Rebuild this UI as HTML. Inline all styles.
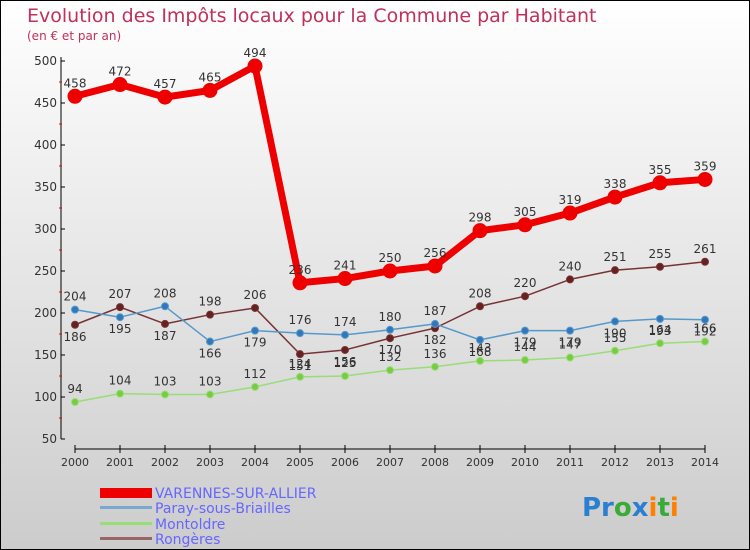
<!DOCTYPE html>
<html><head><meta charset="utf-8"><style>
body{margin:0}
svg{display:block;font-family:"DejaVu Sans","Liberation Sans",sans-serif}
</style></head><body>
<svg width="750" height="550" viewBox="0 0 750 550">
<defs><linearGradient id="bg" x1="0" y1="0" x2="0" y2="1"><stop offset="0" stop-color="#ffffff"/><stop offset="1" stop-color="#cccccc"/></linearGradient></defs>
<rect x="0.5" y="0.5" width="749" height="549" fill="url(#bg)" stroke="#000"/>
<text x="27" y="22" font-size="19" fill="#c0305a">Evolution des Impôts locaux pour la Commune par Habitant</text>
<text x="27" y="40" font-size="12" fill="#c0305a">(en € et par an)</text>
<g id="axes"></g>
<g id="series"></g>
<g>
<rect x="100" y="488" width="52" height="10" fill="#e00"/>
<text x="155" y="498" font-size="14" fill="#6666ff">VARENNES-SUR-ALLIER</text>
<rect x="100" y="506" width="52" height="3" fill="#7aa9d0"/>
<text x="155" y="513" font-size="14" fill="#6666ff">Paray-sous-Briailles</text>
<rect x="100" y="522" width="52" height="3" fill="#99dd77"/>
<text x="155" y="529" font-size="14" fill="#6666ff">Montoldre</text>
<rect x="100" y="537" width="52" height="3" fill="#996666"/>
<text x="155" y="544" font-size="14" fill="#6666ff">Rongères</text>
</g>
<text x="582" y="516" font-size="26" font-weight="bold"><tspan fill="#2a7fd0">Pr</tspan><tspan fill="#3aaa3a">o</tspan><tspan fill="#2a7fd0">x</tspan><tspan fill="#ff7f00">i</tspan><tspan fill="#3aaa3a">t</tspan><tspan fill="#ff7f00">i</tspan></text>
</svg>
<script>
const years=[2000,2001,2002,2003,2004,2005,2006,2007,2008,2009,2010,2011,2012,2013,2014];
const varennes=[458,472,457,465,494,236,241,250,256,298,305,319,338,355,359];
const paray=[204,195,208,166,179,176,174,180,187,168,179,179,190,193,192];
const montoldre=[94,104,103,103,112,124,125,132,136,143,144,147,155,164,166];
const rongeres=[186,207,187,198,206,151,156,170,182,208,220,240,251,255,261];
const yTicks=[50,100,150,200,250,300,350,400,450,500];
const NS="http://www.w3.org/2000/svg";
const X=i=>75+i*45;
const Y=v=>439-(v-50)*(378/450);
function mk(t,a,p){const e=document.createElementNS(NS,t);for(const k in a)e.setAttribute(k,a[k]);p.appendChild(e);return e;}
const ax=document.getElementById('axes');
let l=mk('line',{x1:61,y1:Y(500)-4,x2:61,y2:Y(50),stroke:'#000'},ax);


l=mk('line',{x1:X(0),y1:449,x2:X(14),y2:449,stroke:'#000'},ax);


yTicks.forEach(v=>{
 mk('line',{x1:61,y1:Y(v),x2:65,y2:Y(v),stroke:'#000'},ax);
 if(v<500) mk('line',{x1:59,y1:Y(v+25),x2:62,y2:Y(v+25),stroke:'#e00'},ax);
 const t=mk('text',{x:57,y:Y(v)+4,'font-size':12,fill:'#333','text-anchor':'end'},ax);
 t.textContent=v;
 
 
});
years.forEach((y,i)=>{
 mk('line',{x1:X(i),y1:445,x2:X(i),y2:453,stroke:'#000'},ax);
 const t=mk('text',{x:X(i),y:466,'font-size':11,fill:'#333','text-anchor':'middle'},ax);
 t.textContent=y;
 
 
});
const sg=document.getElementById('series');
function draw(data,name,color,dot,w,r,labelsAbove){
 const g=mk('g',{},sg);
 
 
 const pl=mk('polyline',{points:data.map((v,i)=>X(i)+','+Y(v)).join(' '),fill:'none',stroke:color,'stroke-width':w,'stroke-linejoin':'round'},g);
 
 
 data.forEach((v,i)=>{
  const c=mk('circle',{cx:X(i),cy:Y(v),r:r,fill:dot,stroke:color,'stroke-width':1},g);
  
  
  const up=labelsAbove(i);
  const t=mk('text',{x:X(i),y:Y(v)+(up?-9:16),'font-size':12,fill:'#333','text-anchor':'middle'},g);
  t.textContent=v;
  
  
 });
}
draw(montoldre,'montoldre','#99dd77','#77cc44',1.5,3.5,()=>true);
draw(rongeres,'rongeres','#773333','#662222',1.5,3.5,i=>rongeres[i]>=paray[i]);
draw(paray,'paray','#5599cc','#3377bb',1.5,3.5,i=>paray[i]>rongeres[i]);
draw(varennes,'varennes','#ee0000','#ee0000',7,7,()=>true);
</script>
</body></html>
